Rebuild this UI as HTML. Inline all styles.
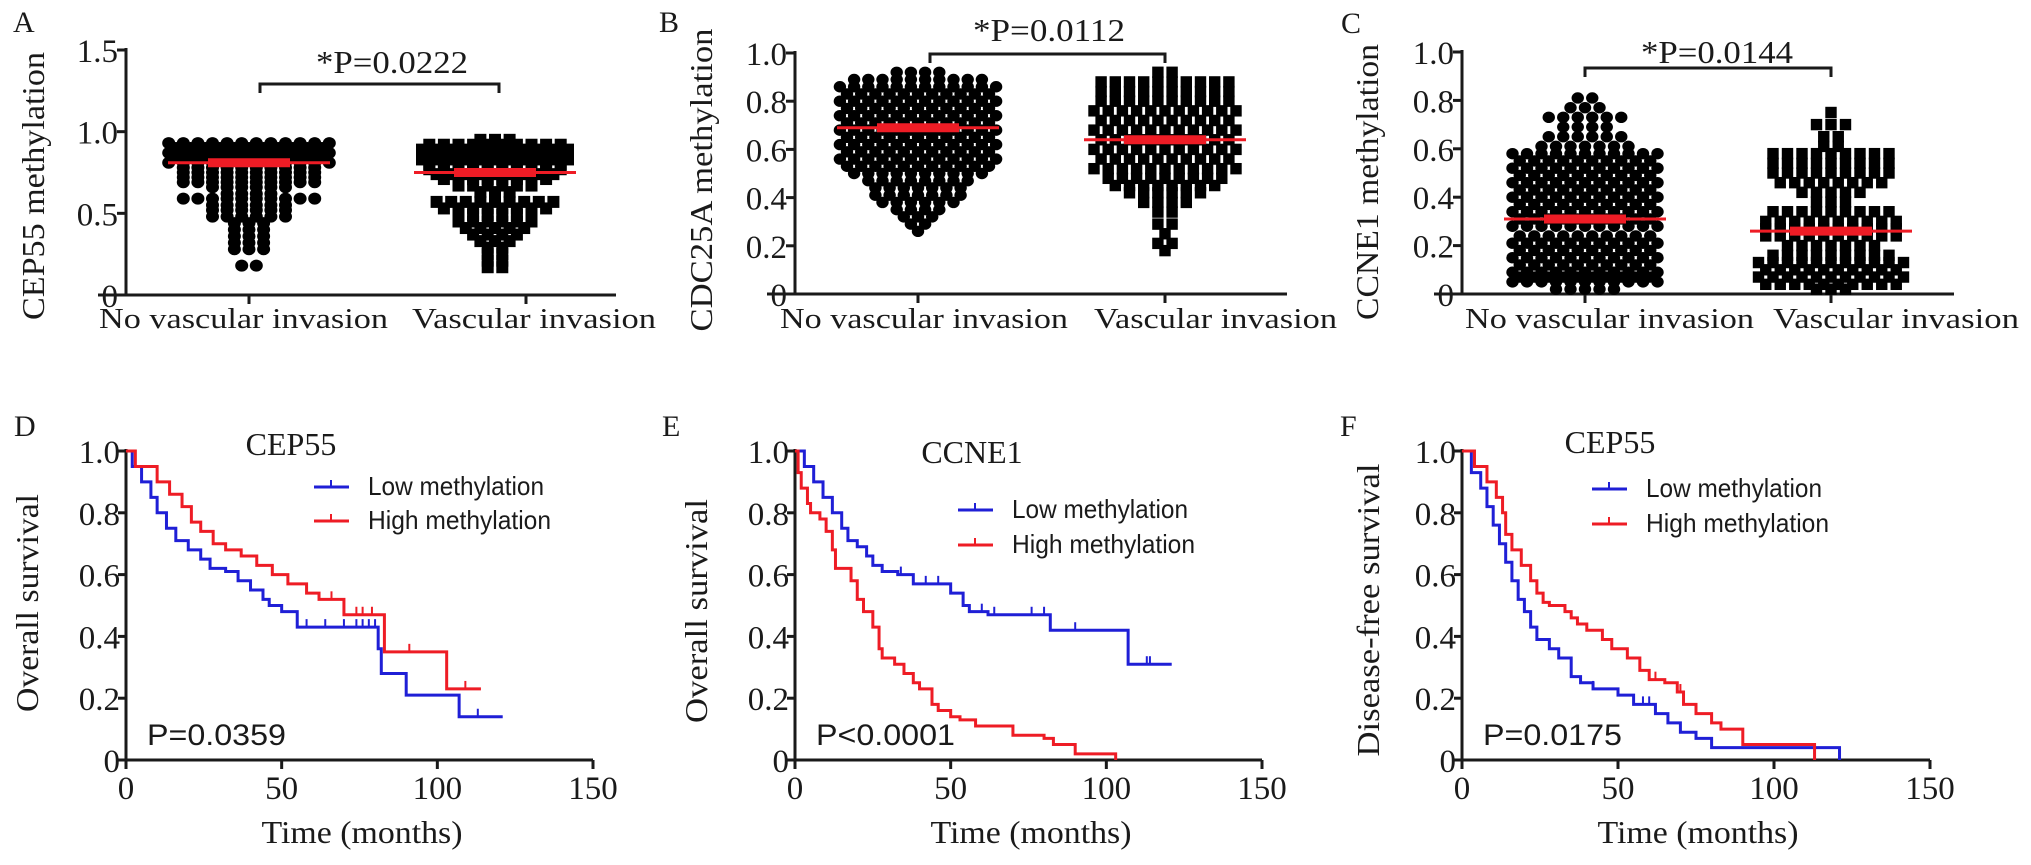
<!DOCTYPE html>
<html>
<head>
<meta charset="utf-8">
<style>
html,body{margin:0;padding:0;background:#fff;}
svg{display:block;}
.serif{font-family:"Liberation Serif","Times New Roman",serif;fill:#1a1a1a;}
.sans{font-family:"Liberation Sans",Arial,sans-serif;fill:#1a1a1a;}
</style>
</head>
<body>
<svg id="fig" width="2031" height="865" viewBox="0 0 2031 865" xmlns="http://www.w3.org/2000/svg">
  <g id="static">
    <text class="serif" x="13" y="32" font-size="30">A</text>
    <text class="serif" x="659" y="32" font-size="30">B</text>
    <text class="serif" x="1341" y="33" font-size="30">C</text>
    <text class="serif" x="14" y="436" font-size="30">D</text>
    <text class="serif" x="662" y="436" font-size="30">E</text>
    <text class="serif" x="1340" y="436" font-size="30">F</text>
  </g>
</svg>
<script>
// ===== Data: scatter panels (value, count per beeswarm row) =====
const aNoValues   = [0.93,0.90,0.87,0.84,0.81,0.78,0.75,0.72,0.69,0.66,0.62,0.59,0.55,0.52,0.48,0.44,0.40,0.36,0.32,0.28,0.18];
const aNoCounts   = [12,12,12,12,12,11,10,10,10,6,4,10,6,6,6,3,3,3,3,3,2];
const aVasValues  = [0.95,0.92,0.89,0.86,0.83,0.80,0.77,0.74,0.71,0.67,0.63,0.57,0.53,0.49,0.45,0.41,0.37,0.33,0.29,0.25,0.21,0.17];
const aVasCounts  = [3,11,11,11,11,10,10,9,8,6,3,9,8,6,6,5,4,3,2,2,2,2];
const bNoValues   = [0.92,0.89,0.86,0.83,0.80,0.77,0.74,0.71,0.68,0.65,0.62,0.59,0.56,0.53,0.50,0.47,0.44,0.41,0.38,0.35,0.32,0.29,0.26];
const bNoCounts   = [4,10,12,12,12,12,12,12,12,12,12,12,12,12,10,8,7,7,6,4,3,2,1];
const bVasValues  = [0.92,0.88,0.84,0.80,0.76,0.72,0.68,0.64,0.60,0.56,0.52,0.48,0.45,0.42,0.38,0.34,0.29,0.25,0.21,0.18];
const bVasCounts  = [2,11,10,11,11,11,11,11,11,11,11,9,8,6,4,2,2,1,2,1];
const cNoValues   = [0.81,0.77,0.73,0.69,0.65,0.61,0.58,0.55,0.52,0.49,0.46,0.43,0.40,0.37,0.34,0.31,0.28,0.24,0.21,0.18,0.15,0.12,0.09,0.07,0.05,0.02];
const cNoCounts   = [2,3,6,4,6,7,11,11,11,11,11,11,11,10,11,11,11,11,11,11,11,11,11,11,11,5];
const cVasValues  = [0.75,0.70,0.65,0.61,0.58,0.54,0.50,0.46,0.42,0.38,0.34,0.30,0.27,0.24,0.20,0.16,0.13,0.10,0.07,0.04,0.02];
const cVasCounts  = [1,3,2,2,9,9,9,8,5,3,9,10,10,10,7,9,11,11,11,11,3];
const aMeans = [0.81, 0.75];
const bMeans = [0.69, 0.64];
const cMeans = [0.31, 0.26];
const aTicks = ["0","0.5","1.0","1.5"];
const aTickVals = [0,0.5,1.0,1.5];
const bcTicks = ["0","0.2","0.4","0.6","0.8","1.0"];
const bcTickVals = [0,0.2,0.4,0.6,0.8,1.0];
const categories = ["No vascular invasion","Vascular invasion"];

// ===== Data: Kaplan-Meier step points (time, survival) =====
const dLowT  = [0,2,5,8,10,13,16,20,24,27,32,36,40,44,46,50,55,81,82,90,107,121];
const dLowS  = [1,0.95,0.90,0.85,0.80,0.75,0.71,0.68,0.65,0.62,0.61,0.58,0.55,0.52,0.50,0.48,0.43,0.36,0.28,0.21,0.14,0.14];
const dHighT = [0,3,10,14,18,21,24,28,32,37,42,47,52,58,62,70,83,103,114];
const dHighS = [1,0.95,0.90,0.86,0.82,0.77,0.74,0.70,0.68,0.66,0.63,0.60,0.57,0.54,0.52,0.47,0.35,0.23,0.23];
const eLowT  = [0,3,6,9,12,15,17,20,23,25,28,33,38,50,54,56,62,82,107,121];
const eLowS  = [1,0.95,0.90,0.85,0.80,0.75,0.71,0.69,0.66,0.63,0.61,0.60,0.57,0.54,0.50,0.48,0.47,0.42,0.31,0.31];
const eHighT = [0,1,2,4,5,8,10,12,13,18,20,22,25,27,28,32,35,38,40,44,46,50,53,58,70,80,83,90,103];
const eHighS = [1,0.93,0.88,0.83,0.80,0.78,0.74,0.68,0.62,0.58,0.52,0.48,0.43,0.36,0.33,0.31,0.28,0.25,0.23,0.18,0.16,0.14,0.13,0.11,0.08,0.07,0.05,0.02,0.0];
const fLowT  = [0,3,6,8,10,12,14,16,18,20,22,24,28,31,35,38,42,50,55,62,66,70,75,80,121];
const fLowS  = [1,0.93,0.88,0.82,0.76,0.70,0.64,0.58,0.52,0.48,0.43,0.39,0.36,0.33,0.27,0.25,0.23,0.21,0.18,0.15,0.12,0.09,0.07,0.04,0.0];
const fHighT = [0,4,8,11,13,14,16,19,22,24,26,28,33,35,37,40,45,48,53,57,60,65,69,71,75,80,83,90,113];
const fHighS = [1,0.95,0.90,0.85,0.80,0.73,0.68,0.63,0.58,0.54,0.51,0.50,0.48,0.46,0.44,0.42,0.39,0.36,0.33,0.29,0.26,0.25,0.22,0.18,0.15,0.12,0.10,0.05,0.0];
const dLowCens  = [58,64,70,74,76,78,80,113];
const dHighCens = [66,74,76,79,91,109];
const eLowCens  = [34,42,46,50,60,64,76,80,90,113,114];
const eHighCens = [];
const fLowCens  = [42,58,60];
const fHighCens = [62,70];
const kmTicks = ["0","50","100","150"];
const kmTickVals = [0,50,100,150];
const kmYTicks = ["0","0.2","0.4","0.6","0.8","1.0"];
const kmYTickVals = [0,0.2,0.4,0.6,0.8,1.0];

const NS = "http://www.w3.org/2000/svg";
const svg = document.getElementById("fig");
function mk(tag, attrs, parent, txt){
  const el = document.createElementNS(NS, tag);
  for (const k in attrs) el.setAttribute(k, attrs[k]);
  if (txt !== undefined) el.textContent = txt;
  (parent || svg).appendChild(el);
  return el;
}
const RED = "#ee1c25", BLUE = "#1f1fd6", INK = "#1a1a1a";

// ---------- Scatter panel ----------
function scatterPanel(p){
  const g = mk("g", {});
  
  
  const y = v => p.y0 - v * (p.y0 - p.yTop) / p.vTop;
  const ya = mk("line", {x1:p.ax, y1:p.yTop - 2, x2:p.ax, y2:p.y0, stroke:INK, "stroke-width":3}, g);
  
  
  const xa = mk("line", {x1:p.ax - 28, y1:p.y0, x2:p.axEnd, y2:p.y0, stroke:INK, "stroke-width":3}, g);
  
  
  p.ticks.forEach((t, i) => {
    const yy = y(p.tickVals[i]);
    mk("line", {x1:p.ax - 9, y1:yy, x2:p.ax, y2:yy, stroke:INK, "stroke-width":3}, g);
    const tl = mk("text", {class:"serif", x:p.ax - 8, y:yy + 12, "font-size":33, "text-anchor":"end"}, g, t);
    
    
  });
  p.cx.forEach(cx => mk("line", {x1:cx, y1:p.y0, x2:cx, y2:p.y0 + 9, stroke:INK, "stroke-width":3}, g));
  categories.forEach((c, i) => {
    const t = mk("text", {class:"serif", x:p.labX[i], y:328, "font-size":29, textLength:p.labW[i], lengthAdjust:"spacingAndGlyphs"}, g, c);
    
    
  });
  const yt = mk("text", {class:"serif", x:0, y:0, "font-size":32, "text-anchor":"middle", textLength:p.titleLen, lengthAdjust:"spacingAndGlyphs", transform:`translate(${p.titleX},${p.titleY}) rotate(-90)`}, g, p.title);
  
  
  const br = mk("path", {d:`M${p.bx[0]},${p.by + 9} V${p.by} H${p.bx[1]} V${p.by + 9}`, fill:"none", stroke:INK, "stroke-width":3}, g);
  
  
  const pv = mk("text", {class:"serif", x:p.px, y:p.py, "font-size":32, "text-anchor":"middle", textLength:152, lengthAdjust:"spacingAndGlyphs"}, g, p.ptext);
  
  
  const groups = [[p.noV, p.noC, "circle"], [p.vasV, p.vasC, "square"]];
  groups.forEach((grp, gi) => {
    const [vals, cnts, shape] = grp;
    const gg = mk("g", {}, g);
    
    
    const center = p.gc[gi];
    vals.forEach((v, ri) => {
      const n = cnts[ri];
      const off = (ri % 2) ? p.sp / 2 : 0;
      const nn = (ri % 2 && n > 10) ? n - 1 : n;
      for (let k = 0; k < nn; k++) {
        const xx = center + (k - (nn - 1) / 2) * p.sp + (n !== nn ? 0 : (n > 2 ? off * 0 : 0));
        const yy = y(v);
        let m;
        if (shape === "circle") m = mk("ellipse", {cx:xx, cy:yy, rx:p.ms, ry:p.ms - 0.5, fill:"#000"}, gg);
        else m = mk("rect", {x:xx - p.ms + 0.5, y:yy - p.ms + 0.5, width:p.ms * 2 - 1, height:p.ms * 2 - 1, fill:"#000"}, gg);
        
        
      }
    });
    const my = y(p.means[gi]);
    const ml = mk("line", {x1:center - 81, y1:my, x2:center + 81, y2:my, stroke:RED, "stroke-width":3}, g);
    
    
    const se = mk("line", {x1:center - 41, y1:my, x2:center + 41, y2:my, stroke:RED, "stroke-width":9}, g);
    
    
  });
}

scatterPanel({name:"panel-a-cep55-scatter", ax:126, axEnd:616, y0:295, yTop:50, vTop:1.5,
  ticks:aTicks, tickVals:aTickVals, cx:[249,526], gc:[249,495], sp:14.6, ms:6.5,
  labX:[99,412], labW:[289,244], title:"CEP55 methylation", titleX:44, titleY:186, titleLen:268,
  bx:[260,499], by:84, px:392, py:73, ptext:"*P=0.0222",
  noV:aNoValues, noC:aNoCounts, vasV:aVasValues, vasC:aVasCounts, means:aMeans});
scatterPanel({name:"panel-b-cdc25a-scatter", ax:795, axEnd:1287, y0:294, yTop:53, vTop:1.0,
  ticks:bcTicks, tickVals:bcTickVals, cx:[918,1165], gc:[918,1165], sp:14.2, ms:6.2,
  labX:[780,1094], labW:[288,243], title:"CDC25A  methylation", titleX:712, titleY:180, titleLen:303,
  bx:[930,1165], by:54, px:1049, py:41, ptext:"*P=0.0112",
  noV:bNoValues, noC:bNoCounts, vasV:bVasValues, vasC:bVasCounts, means:bMeans});
scatterPanel({name:"panel-c-ccne1-scatter", ax:1462, axEnd:1954, y0:294, yTop:52, vTop:1.0,
  ticks:bcTicks, tickVals:bcTickVals, cx:[1585,1831], gc:[1585,1831], sp:14.5, ms:6.2,
  labX:[1465,1773], labW:[289,246], title:"CCNE1  methylation", titleX:1378, titleY:182, titleLen:276,
  bx:[1585,1831], by:68, px:1717, py:63, ptext:"*P=0.0144",
  noV:cNoValues, noC:cNoCounts, vasV:cVasValues, vasC:cVasCounts, means:cMeans});

// ---------- KM panel ----------
function kmPanel(p){
  const g = mk("g", {});
  
  
  const y0 = 760, y1 = 451;
  const x = t => p.ax + t * (p.x150 - p.ax) / 150;
  const y = s => y0 - s * (y0 - y1);
  const ya = mk("line", {x1:p.ax, y1:y1 - 2, x2:p.ax, y2:y0, stroke:INK, "stroke-width":3}, g);
  
  
  const xa = mk("line", {x1:p.ax, y1:y0, x2:p.x150, y2:y0, stroke:INK, "stroke-width":3}, g);
  
  
  kmYTicks.forEach((t, i) => {
    const yy = y(kmYTickVals[i]);
    mk("line", {x1:p.ax - 8, y1:yy, x2:p.ax, y2:yy, stroke:INK, "stroke-width":3}, g);
    const tl = mk("text", {class:"serif", x:p.ax - 6, y:yy + 12, "font-size":33, "text-anchor":"end"}, g, t);
    
    
  });
  kmTicks.forEach((t, i) => {
    const xx = x(kmTickVals[i]);
    mk("line", {x1:xx, y1:y0, x2:xx, y2:y0 + 9, stroke:INK, "stroke-width":3}, g);
    const tl = mk("text", {class:"serif", x:xx, y:799, "font-size":33, "text-anchor":"middle"}, g, t);
    
    
  });
  const xt = mk("text", {class:"serif", x:p.ax + 236, y:843, "font-size":32, "text-anchor":"middle", textLength:201, lengthAdjust:"spacingAndGlyphs"}, g, "Time (months)");
  
  
  const yt = mk("text", {class:"serif", x:0, y:0, "font-size":32, "text-anchor":"middle", textLength:p.titleLen, lengthAdjust:"spacingAndGlyphs", transform:`translate(${p.titleX},${p.titleY}) rotate(-90)`}, g, p.yTitle);
  
  
  const ct = mk("text", {class:"serif", x:p.gx, y:p.gy, "font-size":32, "text-anchor":"middle"}, g, p.gene);
  
  
  const pv = mk("text", {class:"sans", x:p.ax + 21, y:745, "font-size":30, textLength:139, lengthAdjust:"spacingAndGlyphs"}, g, p.ptext);
  
  
  const series = [[p.lowT, p.lowS, p.lowC, BLUE, "low-methylation-curve"], [p.highT, p.highS, p.highC, RED, "high-methylation-curve"]];
  series.forEach(sr => {
    const [T, S, C, col, nm] = sr;
    let d = `M${x(T[0])},${y(S[0])}`;
    for (let i = 1; i < T.length; i++) d += ` H${x(T[i])} V${y(S[i])}`;
    const path = mk("path", {d, fill:"none", stroke:col, "stroke-width":3}, g);
    
    
    C.forEach(ct => {
      let s = S[0];
      for (let i = 0; i < T.length; i++) if (T[i] <= ct) s = S[i];
      const tk = mk("line", {x1:x(ct), y1:y(s), x2:x(ct), y2:y(s) - 8, stroke:col, "stroke-width":2}, g);
      
      
    });
  });
  const lg = mk("g", {}, g);
  
  
  [["Low methylation", BLUE, p.legY[0], 176], ["High methylation", RED, p.legY[1], 183]].forEach(L => {
    const ln = mk("line", {x1:p.legX, y1:L[2], x2:p.legX + 35, y2:L[2], stroke:L[1], "stroke-width":3}, lg);
    
    
    mk("line", {x1:p.legX + 17, y1:L[2], x2:p.legX + 17, y2:L[2] - 7, stroke:L[1], "stroke-width":2}, lg);
    const tx = mk("text", {class:"sans", x:p.legX + 54, y:L[2] + 8, "font-size":26, textLength:L[3], lengthAdjust:"spacingAndGlyphs"}, lg, L[0]);
    
    
  });
}

kmPanel({name:"panel-d-cep55-overall-survival", ax:126, x150:593, gene:"CEP55", gx:291, gy:455,
  yTitle:"Overall survival", titleX:38, titleY:603, titleLen:218, ptext:"P=0.0359",
  lowT:dLowT, lowS:dLowS, lowC:dLowCens, highT:dHighT, highS:dHighS, highC:dHighCens,
  legX:314, legY:[487,521]});
kmPanel({name:"panel-e-ccne1-overall-survival", ax:795, x150:1262, gene:"CCNE1", gx:972, gy:463,
  yTitle:"Overall survival", titleX:707, titleY:611, titleLen:224, ptext:"P<0.0001",
  lowT:eLowT, lowS:eLowS, lowC:eLowCens, highT:eHighT, highS:eHighS, highC:eHighCens,
  legX:958, legY:[510,545]});
kmPanel({name:"panel-f-cep55-disease-free-survival", ax:1462, x150:1930, gene:"CEP55", gx:1610, gy:453,
  yTitle:"Disease-free survival", titleX:1379, titleY:610, titleLen:293, ptext:"P=0.0175",
  lowT:fLowT, lowS:fLowS, lowC:fLowCens, highT:fHighT, highS:fHighS, highC:fHighCens,
  legX:1592, legY:[489,524]});
</script>
</body>
</html>
